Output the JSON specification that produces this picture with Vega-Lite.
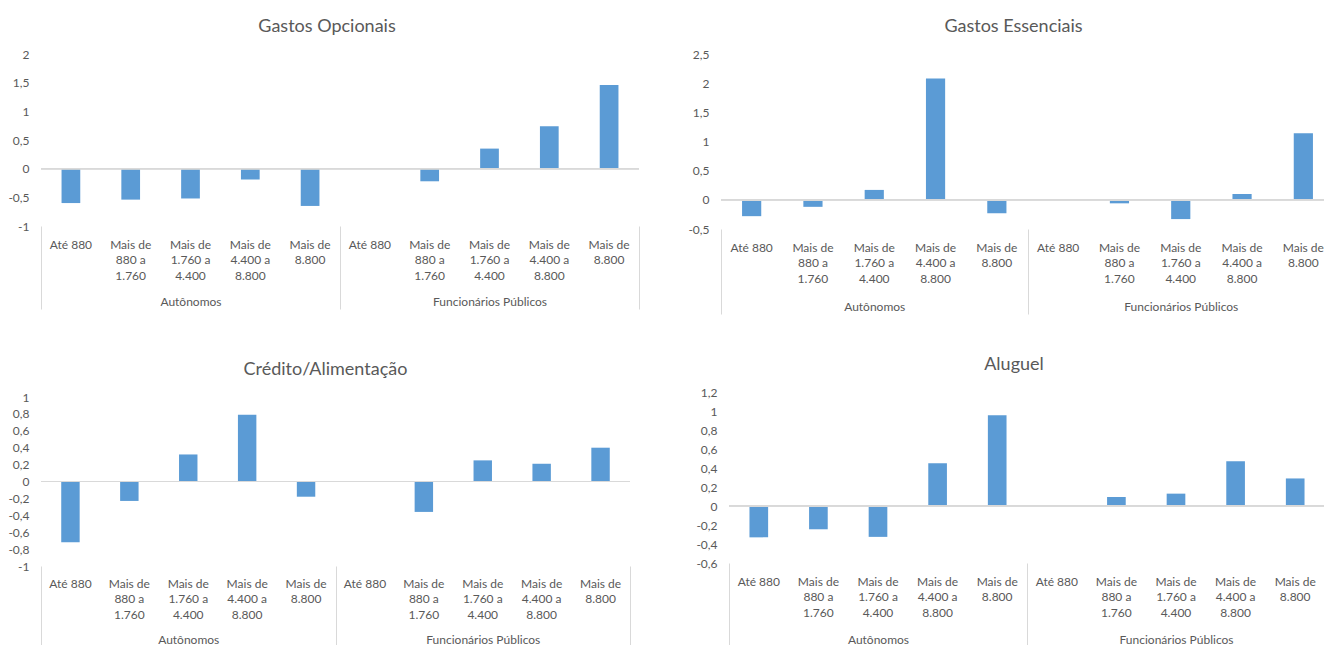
{
  "$schema": "https://vega.github.io/schema/vega-lite/v6.json",
  "padding": {"left": 0, "top": 18, "right": 0, "bottom": 0},
  "background": "white",
  "config": {
    "font": "Lato",
    "view": {"stroke": null},
    "axis": {"labelColor": "#595959", "labelFontSize": 12, "labelFont": "Lato"},
    "title": {"font": "Lato", "fontSize": 18, "fontWeight": "normal", "color": "#595959"}
  },
  "data": {
    "values": [
      {"grafico": "Gastos Opcionais", "grupo": "Autônomos", "faixa": "Até 880", "valor": -0.6},
      {"grafico": "Gastos Opcionais", "grupo": "Autônomos", "faixa": "Mais de 880 a 1.760", "valor": -0.54},
      {"grafico": "Gastos Opcionais", "grupo": "Autônomos", "faixa": "Mais de 1.760 a 4.400", "valor": -0.52},
      {"grafico": "Gastos Opcionais", "grupo": "Autônomos", "faixa": "Mais de 4.400 a 8.800", "valor": -0.19},
      {"grafico": "Gastos Opcionais", "grupo": "Autônomos", "faixa": "Mais de 8.800", "valor": -0.65},
      {"grafico": "Gastos Opcionais", "grupo": "Funcionários Públicos", "faixa": "Até 880", "valor": 0},
      {"grafico": "Gastos Opcionais", "grupo": "Funcionários Públicos", "faixa": "Mais de 880 a 1.760", "valor": -0.22},
      {"grafico": "Gastos Opcionais", "grupo": "Funcionários Públicos", "faixa": "Mais de 1.760 a 4.400", "valor": 0.35},
      {"grafico": "Gastos Opcionais", "grupo": "Funcionários Públicos", "faixa": "Mais de 4.400 a 8.800", "valor": 0.74},
      {"grafico": "Gastos Opcionais", "grupo": "Funcionários Públicos", "faixa": "Mais de 8.800", "valor": 1.46},
      {"grafico": "Gastos Essenciais", "grupo": "Autônomos", "faixa": "Até 880", "valor": -0.28},
      {"grafico": "Gastos Essenciais", "grupo": "Autônomos", "faixa": "Mais de 880 a 1.760", "valor": -0.12},
      {"grafico": "Gastos Essenciais", "grupo": "Autônomos", "faixa": "Mais de 1.760 a 4.400", "valor": 0.17},
      {"grafico": "Gastos Essenciais", "grupo": "Autônomos", "faixa": "Mais de 4.400 a 8.800", "valor": 2.08},
      {"grafico": "Gastos Essenciais", "grupo": "Autônomos", "faixa": "Mais de 8.800", "valor": -0.23},
      {"grafico": "Gastos Essenciais", "grupo": "Funcionários Públicos", "faixa": "Até 880", "valor": 0},
      {"grafico": "Gastos Essenciais", "grupo": "Funcionários Públicos", "faixa": "Mais de 880 a 1.760", "valor": -0.06},
      {"grafico": "Gastos Essenciais", "grupo": "Funcionários Públicos", "faixa": "Mais de 1.760 a 4.400", "valor": -0.33},
      {"grafico": "Gastos Essenciais", "grupo": "Funcionários Públicos", "faixa": "Mais de 4.400 a 8.800", "valor": 0.1},
      {"grafico": "Gastos Essenciais", "grupo": "Funcionários Públicos", "faixa": "Mais de 8.800", "valor": 1.14},
      {"grafico": "Crédito/Alimentação", "grupo": "Autônomos", "faixa": "Até 880", "valor": -0.72},
      {"grafico": "Crédito/Alimentação", "grupo": "Autônomos", "faixa": "Mais de 880 a 1.760", "valor": -0.23},
      {"grafico": "Crédito/Alimentação", "grupo": "Autônomos", "faixa": "Mais de 1.760 a 4.400", "valor": 0.32},
      {"grafico": "Crédito/Alimentação", "grupo": "Autônomos", "faixa": "Mais de 4.400 a 8.800", "valor": 0.79},
      {"grafico": "Crédito/Alimentação", "grupo": "Autônomos", "faixa": "Mais de 8.800", "valor": -0.18},
      {"grafico": "Crédito/Alimentação", "grupo": "Funcionários Públicos", "faixa": "Até 880", "valor": 0},
      {"grafico": "Crédito/Alimentação", "grupo": "Funcionários Públicos", "faixa": "Mais de 880 a 1.760", "valor": -0.36},
      {"grafico": "Crédito/Alimentação", "grupo": "Funcionários Públicos", "faixa": "Mais de 1.760 a 4.400", "valor": 0.25},
      {"grafico": "Crédito/Alimentação", "grupo": "Funcionários Públicos", "faixa": "Mais de 4.400 a 8.800", "valor": 0.21},
      {"grafico": "Crédito/Alimentação", "grupo": "Funcionários Públicos", "faixa": "Mais de 8.800", "valor": 0.4},
      {"grafico": "Aluguel", "grupo": "Autônomos", "faixa": "Até 880", "valor": -0.33},
      {"grafico": "Aluguel", "grupo": "Autônomos", "faixa": "Mais de 880 a 1.760", "valor": -0.245},
      {"grafico": "Aluguel", "grupo": "Autônomos", "faixa": "Mais de 1.760 a 4.400", "valor": -0.325},
      {"grafico": "Aluguel", "grupo": "Autônomos", "faixa": "Mais de 4.400 a 8.800", "valor": 0.45},
      {"grafico": "Aluguel", "grupo": "Autônomos", "faixa": "Mais de 8.800", "valor": 0.955},
      {"grafico": "Aluguel", "grupo": "Funcionários Públicos", "faixa": "Até 880", "valor": 0},
      {"grafico": "Aluguel", "grupo": "Funcionários Públicos", "faixa": "Mais de 880 a 1.760", "valor": 0.095},
      {"grafico": "Aluguel", "grupo": "Funcionários Públicos", "faixa": "Mais de 1.760 a 4.400", "valor": 0.13},
      {"grafico": "Aluguel", "grupo": "Funcionários Públicos", "faixa": "Mais de 4.400 a 8.800", "valor": 0.47},
      {"grafico": "Aluguel", "grupo": "Funcionários Públicos", "faixa": "Mais de 8.800", "valor": 0.29}
    ]
  },
  "transform": [{"calculate": "datum.grupo + '|' + datum.faixa", "as": "chave"}],
  "spacing": 41,
  "vconcat": [
    {
      "spacing": 40,
      "hconcat": [
        {
          "title": {"text": "Gastos Opcionais", "frame": "group", "dx": -13, "offset": 3, "baseline": "middle"},
          "width": 598, "height": 172,
          "transform": [{"filter": "datum.grafico == 'Gastos Opcionais'"}],
          "layer": [
            {"mark": {"type": "bar", "color": "#5B9BD5"},
             "encoding": {
               "x": {"field": "chave", "type": "nominal", "sort": null, "scale": {"paddingInner": 0.687, "paddingOuter": 0.3435},
                     "axis": {"orient": "bottom", "title": null, "domain": false, "ticks": false, "labelAngle": 0, "labelPadding": 13, "labelLineHeight": 15.5,
                              "labelExpr": "length(split(split(datum.value,'|')[1],' ')) == 2 ? split(datum.value,'|')[1] : length(split(split(datum.value,'|')[1],' ')) == 3 ? ['Mais de', split(split(datum.value,'|')[1],' ')[2]] : ['Mais de', split(split(datum.value,'|')[1],' ')[2] + ' a', split(split(datum.value,'|')[1],' ')[4]]"}},
               "y": {"field": "valor", "type": "quantitative", "scale": {"domain": [-1, 2], "nice": false, "zero": false},
                     "axis": {"values": [-1, -0.5, 0, 0.5, 1, 1.5, 2], "tickCount": 50, "labelOverlap": false, "title": null, "domain": false, "ticks": false, "grid": false, "labelPadding": 12, "minExtent": 41, "maxExtent": 41, "labelExpr": "replace(toString(datum.value), '.', ',')"}}
             }},
            {"mark": {"type": "rule", "color": "#d9d9d9"}, "encoding": {"y": {"datum": 0}}},
            {"mark": {"type": "point", "opacity": 0},
             "encoding": {"x": {"field": "grupo", "type": "nominal", "sort": null, "scale": {"type": "band", "paddingInner": 0, "paddingOuter": 0},
                                "axis": {"orient": "bottom", "title": null, "domain": false, "ticks": true, "tickBand": "extent", "tickSize": 83, "tickColor": "#d9d9d9", "labelPadding": -13, "labelAngle": 0}}}}
          ],
          "resolve": {"scale": {"x": "independent"}}
        },
        {
          "title": {"text": "Gastos Essenciais", "frame": "group", "dx": -14, "offset": 3, "baseline": "middle"},
          "width": 613, "height": 175,
          "transform": [{"filter": "datum.grafico == 'Gastos Essenciais'"}],
          "layer": [
            {"mark": {"type": "bar", "color": "#5B9BD5"},
             "encoding": {
               "x": {"field": "chave", "type": "nominal", "sort": null, "scale": {"paddingInner": 0.687, "paddingOuter": 0.3435},
                     "axis": {"orient": "bottom", "title": null, "domain": false, "ticks": false, "labelAngle": 0, "labelPadding": 13, "labelLineHeight": 15.5,
                              "labelExpr": "length(split(split(datum.value,'|')[1],' ')) == 2 ? split(datum.value,'|')[1] : length(split(split(datum.value,'|')[1],' ')) == 3 ? ['Mais de', split(split(datum.value,'|')[1],' ')[2]] : ['Mais de', split(split(datum.value,'|')[1],' ')[2] + ' a', split(split(datum.value,'|')[1],' ')[4]]"}},
               "y": {"field": "valor", "type": "quantitative", "scale": {"domain": [-0.5, 2.5], "nice": false, "zero": false},
                     "axis": {"values": [-0.5, 0, 0.5, 1, 1.5, 2, 2.5], "tickCount": 50, "labelOverlap": false, "title": null, "domain": false, "ticks": false, "grid": false, "labelPadding": 12, "minExtent": 41, "maxExtent": 41, "labelExpr": "replace(toString(datum.value), '.', ',')"}}
             }},
            {"mark": {"type": "rule", "color": "#d9d9d9"}, "encoding": {"y": {"datum": 0}}},
            {"mark": {"type": "point", "opacity": 0},
             "encoding": {"x": {"field": "grupo", "type": "nominal", "sort": null, "scale": {"type": "band", "paddingInner": 0, "paddingOuter": 0},
                                "axis": {"orient": "bottom", "title": null, "domain": false, "ticks": true, "tickBand": "extent", "tickSize": 85, "tickColor": "#d9d9d9", "labelPadding": -13, "labelAngle": 0}}}}
          ],
          "resolve": {"scale": {"x": "independent"}}
        }
      ]
    },
    {
      "spacing": 49,
      "hconcat": [
        {
          "title": {"text": "Crédito/Alimentação", "frame": "group", "dx": -10, "offset": 3, "baseline": "middle"},
          "width": 589, "height": 174,
          "transform": [{"filter": "datum.grafico == 'Crédito/Alimentação'"}],
          "layer": [
            {"mark": {"type": "bar", "color": "#5B9BD5"},
             "encoding": {
               "x": {"field": "chave", "type": "nominal", "sort": null, "scale": {"paddingInner": 0.687, "paddingOuter": 0.3435},
                     "axis": {"orient": "bottom", "title": null, "domain": false, "ticks": false, "labelAngle": 0, "labelPadding": 12, "labelLineHeight": 15.5,
                              "labelExpr": "length(split(split(datum.value,'|')[1],' ')) == 2 ? split(datum.value,'|')[1] : length(split(split(datum.value,'|')[1],' ')) == 3 ? ['Mais de', split(split(datum.value,'|')[1],' ')[2]] : ['Mais de', split(split(datum.value,'|')[1],' ')[2] + ' a', split(split(datum.value,'|')[1],' ')[4]]"}},
               "y": {"field": "valor", "type": "quantitative", "scale": {"domain": [-1, 1], "range": [174, 5], "nice": false, "zero": false},
                     "axis": {"values": [-1, -0.8, -0.6, -0.4, -0.2, 0, 0.2, 0.4, 0.6, 0.8, 1], "tickCount": 50, "labelOverlap": false, "title": null, "domain": false, "ticks": false, "grid": false, "labelPadding": 12, "minExtent": 41, "maxExtent": 41, "labelExpr": "replace(toString(datum.value), '.', ',')"}}
             }},
            {"mark": {"type": "rule", "color": "#d9d9d9"}, "encoding": {"y": {"datum": 0}}},
            {"mark": {"type": "point", "opacity": 0},
             "encoding": {"x": {"field": "grupo", "type": "nominal", "sort": null, "scale": {"type": "band", "paddingInner": 0, "paddingOuter": 0},
                                "axis": {"orient": "bottom", "title": null, "domain": false, "ticks": true, "tickBand": "extent", "tickSize": 83, "tickColor": "#d9d9d9", "labelPadding": -15, "labelAngle": 0}}}}
          ],
          "resolve": {"scale": {"x": "independent"}}
        },
        {
          "title": {"text": "Aluguel", "frame": "group", "dx": -13, "offset": 3, "baseline": "middle"},
          "width": 596, "height": 171,
          "transform": [{"filter": "datum.grafico == 'Aluguel'"}],
          "layer": [
            {"mark": {"type": "bar", "color": "#5B9BD5"},
             "encoding": {
               "x": {"field": "chave", "type": "nominal", "sort": null, "scale": {"paddingInner": 0.687, "paddingOuter": 0.3435},
                     "axis": {"orient": "bottom", "title": null, "domain": false, "ticks": false, "labelAngle": 0, "labelPadding": 13, "labelLineHeight": 15.5,
                              "labelExpr": "length(split(split(datum.value,'|')[1],' ')) == 2 ? split(datum.value,'|')[1] : length(split(split(datum.value,'|')[1],' ')) == 3 ? ['Mais de', split(split(datum.value,'|')[1],' ')[2]] : ['Mais de', split(split(datum.value,'|')[1],' ')[2] + ' a', split(split(datum.value,'|')[1],' ')[4]]"}},
               "y": {"field": "valor", "type": "quantitative", "scale": {"domain": [-0.6, 1.2], "nice": false, "zero": false},
                     "axis": {"values": [-0.6, -0.4, -0.2, 0, 0.2, 0.4, 0.6, 0.8, 1, 1.2], "tickCount": 50, "labelOverlap": false, "title": null, "domain": false, "ticks": false, "grid": false, "labelPadding": 12, "minExtent": 49, "maxExtent": 49, "labelExpr": "replace(toString(datum.value), '.', ',')"}}
             }},
            {"mark": {"type": "rule", "color": "#d9d9d9"}, "encoding": {"y": {"datum": 0}}},
            {"mark": {"type": "point", "opacity": 0},
             "encoding": {"x": {"field": "grupo", "type": "nominal", "sort": null, "scale": {"type": "band", "paddingInner": 0, "paddingOuter": 0},
                                "axis": {"orient": "bottom", "title": null, "domain": false, "ticks": true, "tickBand": "extent", "tickSize": 84, "tickColor": "#d9d9d9", "labelPadding": -13, "labelAngle": 0}}}}
          ],
          "resolve": {"scale": {"x": "independent"}}
        }
      ]
    }
  ]
}
